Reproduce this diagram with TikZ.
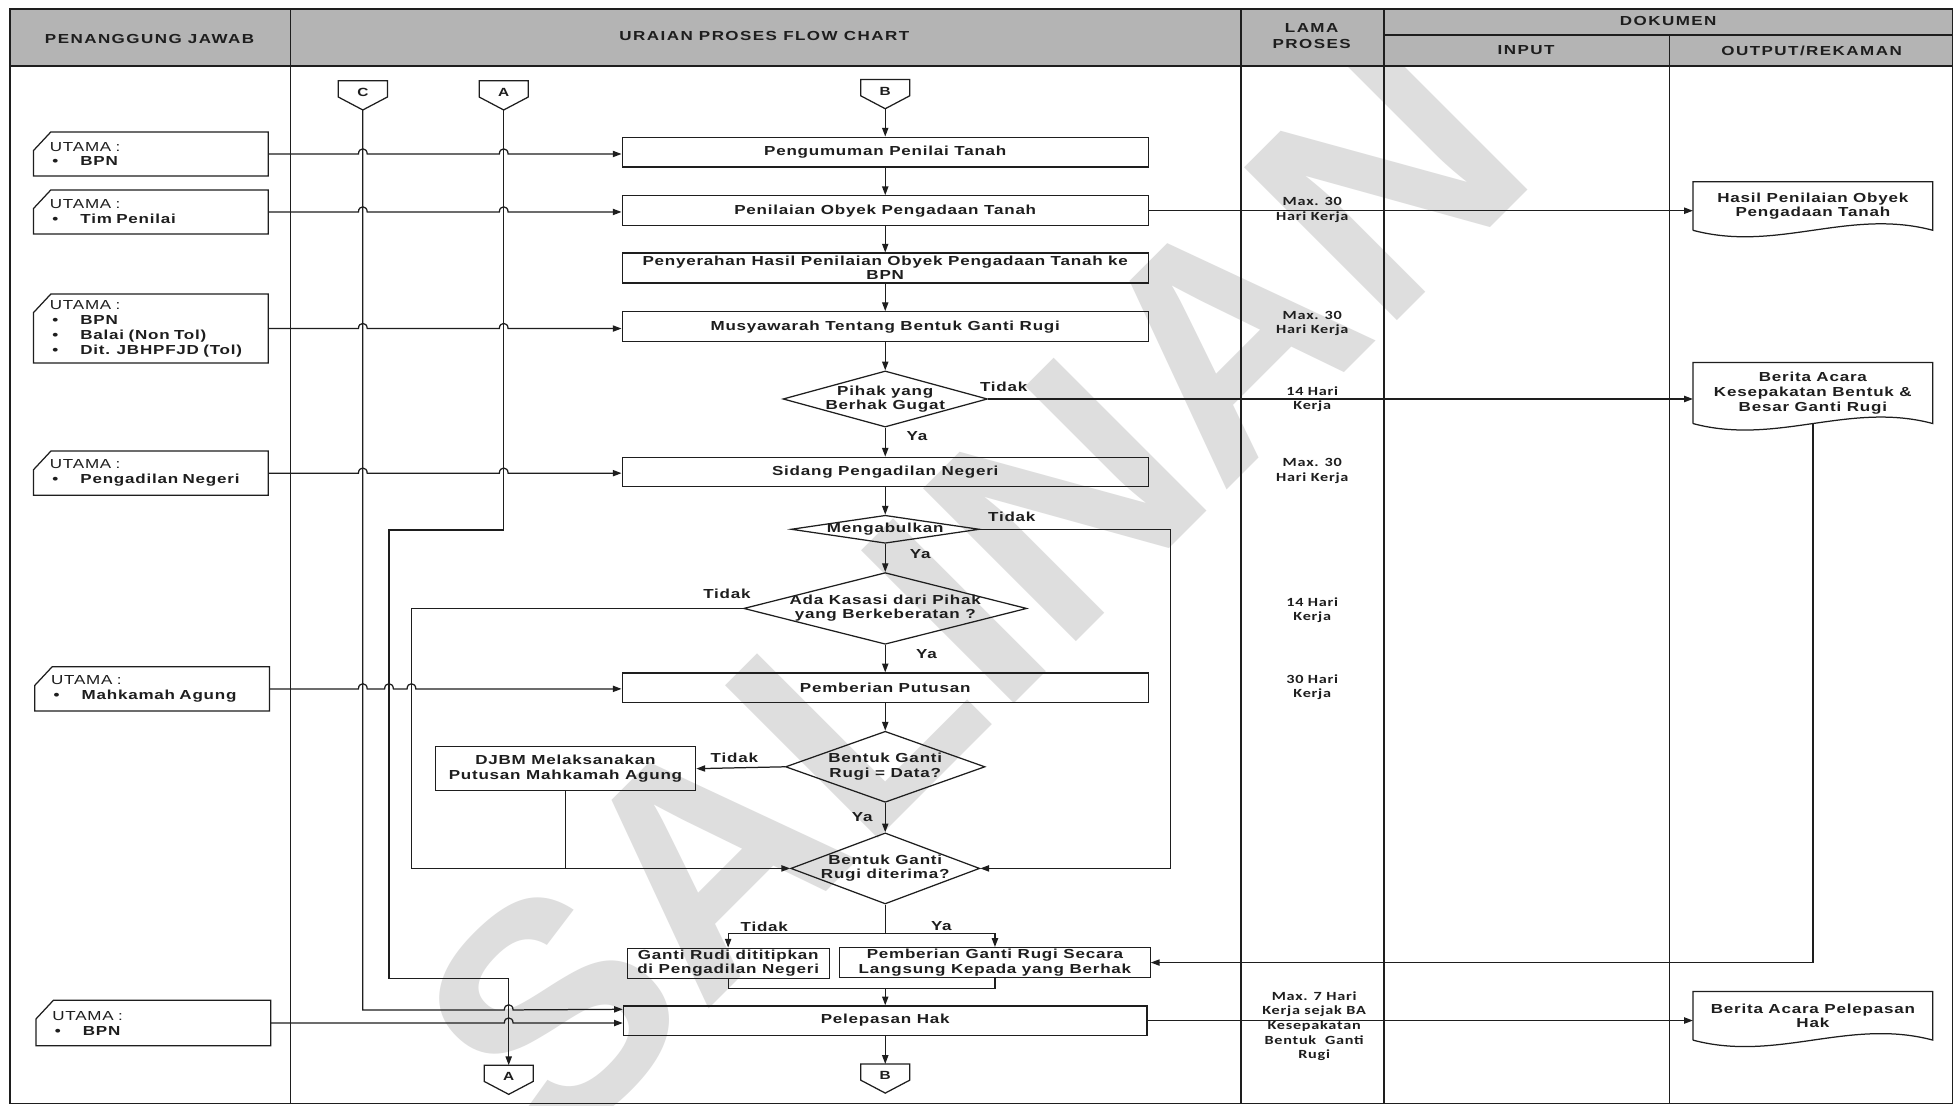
\documentclass[tikz,border=0pt]{standalone}
\usepackage{fontspec}
\setmainfont{Liberation Sans}
\newfontfamily\mf{Liberation Sans}[FakeStretch=1.3,LetterSpace=6]
\newfontfamily\hf{Liberation Sans}[FakeStretch=1.3,LetterSpace=11]
\newfontfamily\cf{Carlito}[FakeStretch=1.3,LetterSpace=6]
\newfontfamily\wmf{Liberation Sans}
\usetikzlibrary{arrows.meta,calc,shapes.geometric}
\definecolor{hdrgray}{RGB}{180,180,180}
\definecolor{ink}{RGB}{30,30,30}
\definecolor{wmgray}{RGB}{222,222,222}
\newcommand\hop[2]{-- ({#1-3.5},#2) .. controls ({#1-3.5},{#2-5.5}) and ({#1+3.5},{#2-5.5}) .. ({#1+3.5},#2)}
\newcommand\cardpath[1]{\draw[ln] ($(#1.north west)+(0,15)$) -- ($(#1.north west)+(14,0)$) -- (#1.north east) -- (#1.south east) -- (#1.south west) -- cycle;}
\newcommand\docpath[1]{\draw[ln] (#1.south west) -- (#1.north west) -- (#1.north east) -- (#1.south east) .. controls ($(#1.south east)!0.35!(#1.south west)+(0,-18)$) and ($(#1.south east)!0.65!(#1.south west)+(0,18)$) .. (#1.south west);}
\newcommand\offpath[1]{\draw[ln] (#1.north west) -- (#1.north east) -- ($(#1.north east)+(0,13)$) -- (#1.south) -- ($(#1.north west)+(0,13)$) -- cycle;}
\newcommand\bul{\hspace*{2pt}\makebox[22.5pt][l]{\bfseries\textbullet}\bfseries}
\begin{document}
\begin{tikzpicture}[x=1pt,y={(0,-1pt)},
  ln/.style={line width=1pt, draw=ink},
  arr/.style={ln, -{Triangle[length=7pt,width=5pt]}},
  tbl/.style={line width=1.5pt, draw=ink},
  hdr/.style={font=\hf\bfseries\fontsize{10.5}{12.3}\selectfont, inner sep=0pt, text=ink},
  proc/.style={rectangle, draw=ink, line width=1pt, minimum width=422pt, minimum height=24pt, inner sep=0pt, align=center, font=\mf\bfseries\fontsize{10.5}{11.5}\selectfont, text=ink},
  box/.style={rectangle, draw=ink, line width=1pt, inner sep=0pt, align=center, font=\mf\bfseries\fontsize{10.5}{11.5}\selectfont, text=ink},
  dec/.style={diamond, draw=ink, line width=1pt, inner sep=0pt},
  dl/.style={font=\mf\bfseries\fontsize{10.5}{11.5}\selectfont, align=center, inner sep=0pt, text=ink},
  lbl/.style={font=\mf\bfseries\fontsize{10.5}{12}\selectfont, inner sep=0pt, text=ink},
  pj/.style={inner xsep=13pt, inner ysep=0pt, text width=162pt, align=left, minimum width=188pt, font=\mf\fontsize{10.5}{12}\selectfont, text=ink},
  doc/.style={minimum width=192pt, inner sep=0pt, align=center, font=\mf\bfseries\fontsize{10.5}{11.7}\selectfont, text=ink},
  off/.style={minimum width=39pt, minimum height=23pt, inner sep=0pt, text depth=5pt, font=\mf\bfseries\fontsize{9.5}{11}\selectfont, text=ink},
  lp/.style={font=\cf\bfseries\fontsize{10}{11.7}\selectfont, align=center, inner sep=0pt, text=ink},
  wm/.style={font=\wmf\bfseries\fontsize{252}{252}\selectfont, text=wmgray, rotate=45, inner sep=0pt}
]
\useasboundingbox (0,0) rectangle (1568,887);
\fill[white] (0,0) rectangle (1568,887);
% watermark
\node[wm] (wmk) at (780,475) {SALINAN};
% table
\fill[hdrgray] (8,7) rectangle (1566,53);
\draw[tbl] (8,7) rectangle (1566,885);
\draw[tbl] (8,53) -- (1566,53);
\draw[tbl] (233,7) -- (233,885);
\draw[tbl] (995,7) -- (995,885);
\draw[tbl] (1110,7) -- (1110,885);
\draw[tbl] (1339,28) -- (1339,885);
\draw[tbl] (1110,28) -- (1566,28);
\node[hdr] (hPJ) at (120,31) {PENANGGUNG JAWAB};
\node[hdr] (hUR) at (613,29) {URAIAN PROSES FLOW CHART};
\node[hdr,align=center] (hLP) at (1052,29) {LAMA\\PROSES};
\node[hdr] (hDK) at (1338,17) {DOKUMEN};
\node[hdr] (hIN) at (1224,40.5) {INPUT};
\node[hdr] (hOUT) at (1453,40.5) {OUTPUT/REKAMAN};
% responsible parties
\node[pj,minimum height=35pt] (pj1) at (121,123.5) {UTAMA :\\\bul BPN};
\node[pj,minimum height=35pt] (pj2) at (121,170) {UTAMA :\\\bul Tim Penilai};
\node[pj,minimum height=55pt] (pj3) at (121,263.5) {UTAMA :\\\bul BPN\\\bul Balai (Non Tol)\\\bul Dit. JBHPFJD (Tol)};
\node[pj,minimum height=35pt] (pj4) at (121,379.5) {UTAMA :\\\bul Pengadilan Negeri};
\node[pj,minimum height=35pt] (pj5) at (122,552.5) {UTAMA :\\\bul Mahkamah Agung};
\node[pj,minimum height=36pt] (pj6) at (123,820.5) {UTAMA :\\\bul BPN};
\foreach \n in {pj1,pj2,pj3,pj4,pj5,pj6} {\cardpath{\n}}
% off-page connectors
\node[off] (cC) at (291,76.5) {C};
\node[off] (cA) at (404,76.5) {A};
\node[off] (cB) at (710,75.5) {B};
\node[off] (cA2) at (408,866) {A};
\node[off] (cB2) at (710,865) {B};
\foreach \n in {cC,cA,cB,cA2,cB2} {\offpath{\n}}
% process boxes
\node[proc] (p1) at (710,122) {Pengumuman Penilai Tanah};
\node[proc] (p2) at (710,169) {Penilaian Obyek Pengadaan Tanah};
\node[proc] (p3) at (710,215) {Penyerahan Hasil Penilaian Obyek Pengadaan Tanah ke\\BPN};
\node[proc] (p4) at (710,262) {Musyawarah Tentang Bentuk Ganti Rugi};
\node[proc,minimum height=23.5pt] (ps) at (710,378.5) {Sidang Pengadilan Negeri};
\node[proc,minimum height=23.5pt] (pp) at (710,551.5) {Pemberian Putusan};
\node[proc,minimum height=23.5pt,minimum width=420pt] (pel) at (710,818.5) {Pelepasan Hak};
\node[box,minimum width=209pt,minimum height=35pt] (dj) at (453.5,616.5) {DJBM Melaksanakan\\Putusan Mahkamah Agung};
\node[box,minimum width=162pt,minimum height=24pt] (g1) at (584,772.5) {Ganti Rudi dititipkan\\di Pengadilan Negeri};
\node[box,minimum width=249pt,minimum height=24pt] (g2) at (798,772) {Pemberian Ganti Rugi Secara\\Langsung Kepada yang Berhak};
% decisions
\node[dec,minimum width=164pt,minimum height=45pt,label={[dl]center:{Pihak yang\\Berhak Gugat}}] (d1) at (710,320) {};
\node[dec,minimum width=151pt,minimum height=22.5pt,label={[dl]center:{Mengabulkan}}] (d2) at (710,424.5) {};
\node[dec,minimum width=227pt,minimum height=57.5pt,label={[dl]center:{Ada Kasasi dari Pihak\\yang Berkeberatan ?}}] (d3) at (710,488) {};
\node[dec,minimum width=160pt,minimum height=57pt,label={[dl]center:{Bentuk Ganti\\Rugi = Data?}}] (d5) at (710,615) {};
\node[dec,minimum width=151.5pt,minimum height=57pt,label={[dl]center:{Bentuk Ganti\\Rugi diterima?}}] (d4) at (710,696.5) {};
% documents
\node[doc,minimum height=38.5pt] (o1) at (1454,165.25) {Hasil Penilaian Obyek\\Pengadaan Tanah};
\node[doc,minimum height=48.5pt] (o2) at (1454,315.25) {Berita Acara\\Kesepakatan Bentuk \&\\Besar Ganti Rugi};
\node[doc,minimum height=38.5pt] (o3) at (1454,814.75) {Berita Acara Pelepasan\\Hak};
\foreach \n in {o1,o2,o3} {\docpath{\n}}
% durations
\node[lp] (l1) at (1052.5,168.5) {Max. 30\\Hari Kerja};
\node[lp] (l2) at (1052.5,259.5) {Max. 30\\Hari Kerja};
\node[lp] (l3) at (1052.5,320) {14 Hari\\Kerja};
\node[lp] (l4) at (1052.5,377.5) {Max. 30\\Hari Kerja};
\node[lp] (l5) at (1052.5,489.5) {14 Hari\\Kerja};
\node[lp] (l6) at (1052.5,551) {30 Hari\\Kerja};
\node[lp] (l7) at (1054,823) {Max. 7 Hari\\Kerja sejak BA\\Kesepakatan\\Bentuk~ Ganti\\Rugi};
% main flow
\draw[arr] (cB.south) -- (p1.north);
\draw[arr] (p1.south) -- (p2.north);
\draw[arr] (p2.south) -- (p3.north);
\draw[arr] (p3.south) -- (p4.north);
\draw[arr] (p4.south) -- (d1.north);
\draw[arr] (d1.south) -- (ps.north);
\draw[arr] (ps.south) -- (d2.north);
\draw[arr] (d2.south) -- (d3.north);
\draw[arr] (d3.south) -- (pp.north);
\draw[arr] (pp.south) -- (d5.north);
\draw[arr] (d5.south) -- (d4.north);
\draw[arr] (d5.west) -- (dj.east);
\draw[ln] (dj.south) -- (dj.south |- d4.west);
\coordinate (xR) at (939,0);
\coordinate (xL) at (330,0);
\draw[arr] (d2.east) -- (d2.east -| xR) |- (d4.east);
\draw[arr] (d3.west) -- (d3.west -| xL) |- (d4.west);
\coordinate (sp) at (710,748.5);
\draw[ln] (d4.south) -- (sp);
\draw[arr] (sp) -| (g1.north);
\draw[arr] (sp) -| (g2.north);
\coordinate (jn) at (710,793);
\draw[ln] (g1.south) |- (jn);
\draw[ln] (g2.south) |- (jn);
\draw[arr] (jn) -- (pel.north);
\draw[arr] (pel.south) -- (cB2.north);
\draw[arr] (pel.east) -- (pel.east -| o3.west);
\draw[arr] (p2.east) -- (p2.east -| o1.west);
\draw[arr] (d1.east) -- (d1.east -| o2.west);
\draw[arr] (o2.south) |- (g2.east);
% responsible party connectors
\draw[arr] (pj1.east) \hop{291}{123.5} \hop{404}{123.5} -- (pj1.east -| p1.west);
\draw[arr] (pj2.east) \hop{291}{170} \hop{404}{170} -- (pj2.east -| p2.west);
\draw[arr] (pj3.east) \hop{291}{263.5} \hop{404}{263.5} -- (pj3.east -| p4.west);
\draw[arr] (pj4.east) \hop{291}{379.5} \hop{404}{379.5} -- (pj4.east -| ps.west);
\draw[arr] (pj5.east) \hop{291}{552.5} \hop{312}{552.5} \hop{330}{552.5} -- (pj5.east -| pp.west);
\draw[arr] (pj6.east) \hop{408}{820.5} -- (pj6.east -| pel.west);
% connector lines C and A
\draw[arr] (cC.south) -- (291,810) \hop{408}{810} -- ($(pel.north west)+(0,3.25)$);
\draw[arr] (cA.south) -- (404,425) -- (312,425) -- (312,785) -- (408,785) -- (cA2.north);
% labels
\node[lbl] (tk1) at (805,310.5) {Tidak};
\node[lbl] (ya1) at (735.5,350) {Ya};
\node[lbl] (tk2) at (811.5,414.5) {Tidak};
\node[lbl] (ya2) at (738,444) {Ya};
\node[lbl] (tk3) at (583,476.5) {Tidak};
\node[lbl] (ya3) at (743,524.5) {Ya};
\node[lbl] (tk4) at (589,608) {Tidak};
\node[lbl] (ya4) at (691.5,655) {Ya};
\node[lbl] (tk5) at (613,743) {Tidak};
\node[lbl] (ya5) at (755,743) {Ya};
\end{tikzpicture}
\end{document}
